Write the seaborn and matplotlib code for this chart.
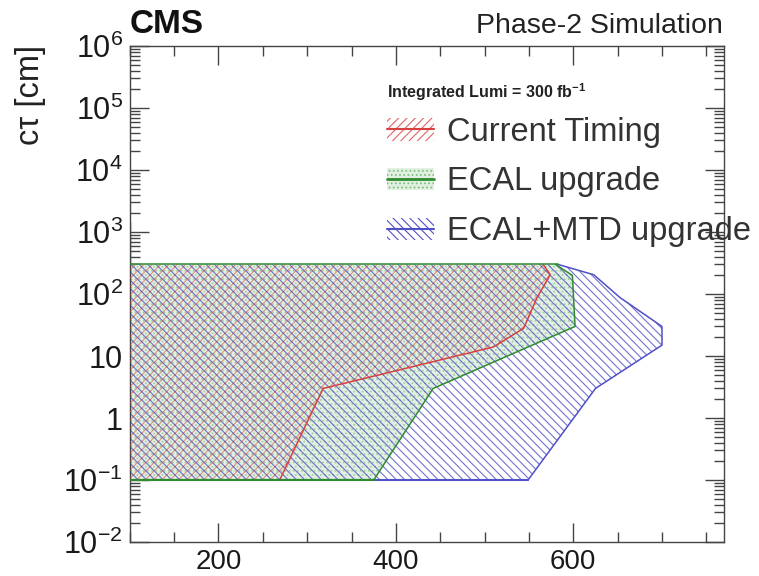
import matplotlib
matplotlib.use("Agg")
import matplotlib.pyplot as plt
import seaborn as sns
import pandas as pd
import numpy as np
from matplotlib.patches import Patch
from matplotlib.lines import Line2D
from matplotlib.ticker import MultipleLocator, LogLocator, FixedLocator, FuncFormatter, NullFormatter

# ---- data ----
mass_current = [100, 269, 318, 510, 544, 559, 574, 566, 100, 100]
ctau_current = [0.1, 0.1, 3, 14, 28, 87, 205, 300, 300, 0.1]

mass_ecal = [100, 375, 442, 602, 599, 580, 100, 100]
ctau_ecal = [0.1, 0.1, 3, 30, 200, 300, 300, 0.1]

mass_mtd = [100, 549, 625, 700, 700, 653, 623, 583, 100, 100]
ctau_mtd = [0.1, 0.1, 3, 15, 30, 87, 205, 300, 300, 0.1]

spike_mass = [101.8, 101.8]
spike_ctau = [300, 1450]

labels = ["Current Timing", "ECAL upgrade", "ECAL+MTD upgrade"]
x_major = [200, 400, 600]
y_major = [1e-2, 1e-1, 1, 10, 1e2, 1e3, 1e4, 1e5, 1e6]

red = "#d84040"
green = "#2e8b2e"
blue = "#5050c8"

sns.set_theme(style="ticks")
plt.rcParams["font.family"] = ["Liberation Sans", "DejaVu Sans"]
plt.rcParams["mathtext.fontset"] = "custom"
plt.rcParams["mathtext.rm"] = "Liberation Sans"
plt.rcParams["mathtext.it"] = "Liberation Sans:italic"
plt.rcParams["mathtext.bf"] = "Liberation Sans:bold"
plt.rcParams["hatch.linewidth"] = 0.8

fig = plt.figure(figsize=(7.59, 5.76), dpi=100)
ax = fig.add_axes([0.171, 0.059, 0.783, 0.861])

HB = "\\" * 4
HF = "/" * 4

# fills
ax.fill(mass_ecal, ctau_ecal, facecolor="#e2f0e2", lw=0, zorder=1)
ax.fill(mass_ecal, ctau_ecal, facecolor="none", edgecolor=green, hatch="....", lw=0, zorder=1.5, alpha=0.3)
ax.fill(mass_mtd, ctau_mtd, facecolor="none", edgecolor=blue, hatch=HB, lw=0, zorder=2, alpha=0.8)
ax.fill(mass_current, ctau_current, facecolor="none", edgecolor=red, hatch=HF, lw=0, zorder=3, alpha=0.55)

# outlines with seaborn
for m, c, col, z in [(mass_mtd, ctau_mtd, blue, 4), (mass_ecal, ctau_ecal, green, 5), (mass_current, ctau_current, red, 6)]:
    df = pd.DataFrame({"m": m[1:-2], "c": c[1:-2]})
    sns.lineplot(data=df, x="m", y="c", sort=False, estimator=None, color=col, lw=1.1, ax=ax, zorder=z)
# shared top & bottom borders
sns.lineplot(x=[100, 583], y=[300, 300], color=green, lw=1.1, ax=ax, zorder=7)
sns.lineplot(x=[375, 549], y=[0.1, 0.1], color=blue, lw=1.5, ax=ax, zorder=7)
sns.lineplot(x=[100, 375], y=[0.1, 0.1], color=green, lw=1.5, ax=ax, zorder=7)
sns.lineplot(x=spike_mass, y=spike_ctau, color=green, lw=1.5, ax=ax, zorder=7)

ax.set_yscale("log")
ax.set_xlim(100, 770)
ax.set_ylim(1e-2, 1e6)
ax.set_xlabel("")
ax.set_ylabel("")

ax.xaxis.set_major_locator(FixedLocator(x_major))
ax.xaxis.set_minor_locator(MultipleLocator(50))
ax.yaxis.set_major_locator(FixedLocator(y_major))
ax.yaxis.set_minor_locator(LogLocator(base=10, subs=np.arange(2, 10)))
ax.yaxis.set_minor_formatter(NullFormatter())

def yfmt(v, pos):
    e = int(round(np.log10(v)))
    if e == 0:
        return "1"
    if e == 1:
        return "10"
    return r"$\mathregular{10^{%d}}$" % e
ax.yaxis.set_major_formatter(FuncFormatter(yfmt))

ax.tick_params(which="both", direction="in", top=True, right=True, colors="#444444", labelcolor="#1a1a1a")
ax.tick_params(which="major", length=14, width=1)
ax.tick_params(which="minor", length=7, width=1)
ax.tick_params(axis="x", pad=5, labelsize=20)
ax.tick_params(axis="y", pad=5, labelsize=22)
for s in ax.spines.values():
    s.set_color("#444444")
    s.set_linewidth(1.0)

# texts
fig.text(0.171, 0.943, "CMS", fontsize=24, fontweight="bold", ha="left", va="baseline", color="#111111")
fig.text(0.953, 0.943, "Phase-2 Simulation", fontsize=20.5, ha="right", va="baseline", color="#222222")
fig.text(0.040, 0.922, "cτ [cm]", fontsize=23.5, rotation=90, ha="center", va="top", color="#222222")
ax.text(0.433, 0.907, r"Integrated Lumi = 300 fb$^{\mathbf{-1}}$", transform=ax.transAxes,
        fontsize=11.5, fontweight="bold", ha="left", va="center", color="#222222")

handles = [
    (Patch(facecolor="none", edgecolor=red, hatch=HF, lw=0, alpha=0.8), Line2D([], [], color=red, lw=1.5)),
    (Patch(facecolor="#e2f0e2", edgecolor="#7fbf7f", hatch="....", lw=0), Line2D([], [], color=green, lw=2)),
    (Patch(facecolor="none", edgecolor=blue, hatch=HB, lw=0), Line2D([], [], color=blue, lw=1.5)),
]
leg = ax.legend(handles, labels, loc="upper left", bbox_to_anchor=(0.433, 0.858), frameon=False,
                fontsize=23.5, handlelength=1.45, handletextpad=0.37, labelspacing=0.58,
                borderaxespad=0, borderpad=0)
for t in leg.get_texts():
    t.set_color("#333333")

fig.savefig("out.png", dpi=100)
